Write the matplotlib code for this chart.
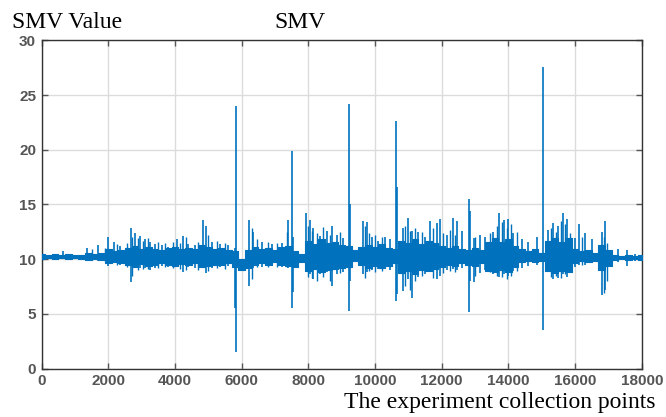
import matplotlib.pyplot as plt

# dense core of the signal: upper / lower edge every 200 points
core_x = list(range(0, 18001, 200))
core_hi = [10.45, 10.35, 10.5, 10.4, 10.45, 10.35, 10.4, 10.6, 10.45, 10.55,
           10.9, 10.7, 10.85, 11.0, 11.2, 10.9, 11.1, 10.9, 10.8, 11.0,
           11.1, 10.9, 11.0, 10.9, 11.3, 11.1, 10.9, 11.0, 10.8, 10.7,
           10.0, 10.8, 11.1, 10.9, 11.0, 10.8, 11.1, 11.2, 10.7, 10.5,
           11.7, 11.4, 11.8, 11.5, 11.6, 11.3, 11.2, 10.8, 11.1, 11.3,
           11.1, 11.4, 11.0, 10.9, 11.7, 11.5, 11.8, 11.4, 11.7, 11.5,
           11.2, 11.0, 11.2, 10.9, 10.8, 11.0, 10.8, 11.6, 11.9, 11.6,
           11.8, 11.2, 10.9, 10.7, 10.9, 10.6, 11.7, 11.9, 11.6, 11.9,
           10.9, 10.7, 10.8, 10.6, 11.3, 10.8, 10.4, 10.3, 10.4, 10.3,
           10.35]
core_lo = [10.05, 10.1, 10.0, 10.1, 10.05, 10.1, 10.0, 9.9, 10.05, 9.95,
           9.6, 9.75, 9.6, 9.5, 9.3, 9.55, 9.4, 9.5, 9.6, 9.5,
           9.4, 9.55, 9.5, 9.6, 9.3, 9.4, 9.5, 9.45, 9.6, 9.3,
           9.0, 9.2, 9.5, 9.6, 9.5, 9.7, 9.5, 9.4, 9.3, 9.7,
           8.9, 9.1, 8.8, 9.0, 9.1, 9.2, 9.3, 9.8, 9.5, 9.2,
           9.4, 9.2, 9.4, 9.6, 8.7, 8.9, 8.6, 9.0, 8.9, 9.1,
           9.3, 9.5, 9.4, 9.6, 9.5, 9.4, 9.6, 8.9, 8.8, 9.0,
           8.8, 9.3, 9.7, 9.8, 9.7, 9.8, 8.9, 8.7, 8.9, 8.8,
           9.6, 9.8, 9.7, 9.8, 9.0, 9.4, 9.9, 10.0, 9.9, 10.0,
           9.95]

# single excursions sticking out of the core
spike_x = [650, 1350, 1680, 2000, 2170, 2350, 2670, 2800, 2950, 3100,
           3250, 3400, 3600, 3800, 4050, 4250, 4400, 4600, 4830, 4930,
           5100, 5350, 5600, 5800, 5820, 6230, 6350, 6600, 6900, 7200,
           7400, 7520, 7540, 7930, 8050, 8150, 8350, 8550, 8700, 8850,
           9050, 9220, 9240, 9650, 9750, 9900, 10100, 10300, 10450, 10630,
           10650, 10850, 11000, 11100, 11300, 11500, 11650, 11850, 11950, 12150,
           12330, 12470, 12600, 12820, 12840, 12960, 13150, 13300, 13550, 13730,
           13870, 14000, 14150, 14400, 14600, 14850, 15030, 15200, 15350, 15500,
           15630, 15750, 16000, 16130, 16300, 16500, 16820, 16900, 17300, 17550,
           17800]
spike_hi = [10.7, 11.05, 11.3, 12.06, 11.6, 11.2, 12.8, 12.4, 12.1, 11.8,
            11.6, 11.4, 11.3, 11.1, 11.8, 12.1, 11.4, 11.3, 13.6, 13.0,
            11.6, 11.4, 11.3, 11.0, 24.0, 13.6, 12.5, 11.6, 11.4, 11.5,
            13.6, 19.9, 12.0, 14.2, 13.6, 12.8, 12.1, 12.6, 13.0, 12.2,
            11.9, 24.2, 15.0, 13.5, 13.4, 12.0, 11.7, 12.0, 11.8, 22.6,
            16.6, 12.8, 13.8, 12.6, 12.5, 12.0, 13.5, 13.3, 13.7, 12.2,
            13.8, 13.5, 12.6, 15.5, 14.4, 11.9, 12.2, 12.0, 12.5, 14.2,
            13.6, 13.7, 12.4, 11.8, 11.6, 12.0, 27.6, 12.7, 13.3, 13.0,
            14.2, 13.7, 11.9, 13.2, 12.4, 11.8, 12.5, 13.5, 10.9, 10.8,
            10.5]
spike_lo = [10.0, 9.8, 9.8, 9.4, 9.6, 9.5, 7.9, 9.3, 9.2, 9.2,
            9.0, 9.2, 9.4, 9.3, 9.3, 8.85, 9.3, 9.2, 9.2, 8.7,
            9.2, 9.3, 9.4, 5.5, 1.5, 7.5, 9.2, 9.3, 9.4, 9.3,
            9.2, 5.5, 7.0, 8.9, 8.6, 8.2, 8.6, 8.8, 7.5, 8.6,
            8.8, 5.3, 8.0, 8.6, 8.8, 9.0, 9.1, 9.2, 9.0, 6.2,
            6.8, 7.1, 8.2, 6.4, 8.4, 8.6, 8.8, 8.2, 8.5, 9.0,
            9.1, 9.0, 9.2, 5.2, 8.0, 7.9, 8.7, 9.0, 8.6, 8.4,
            8.6, 8.5, 8.9, 9.2, 9.4, 9.5, 3.5, 8.8, 8.2, 8.3,
            8.6, 8.4, 9.3, 9.5, 9.5, 9.6, 6.7, 7.2, 9.7, 9.4,
            9.8]

# smaller excursions that roughen the busy stretches
minor_x = [1500, 1900, 2250, 2550, 2720, 2880, 3050, 3180, 3500, 3700,
           3950, 4150, 4320, 4700, 5000, 5250, 5500, 6300, 6450, 6800,
           7050, 7350, 7990, 8100, 8250, 8450, 8650, 8950, 9700, 9820,
           10000, 10200, 10900, 11050, 11200, 11400, 11750, 12050, 12250, 12400,
           13000, 13450, 13650, 13800, 13950, 14080, 14250, 15270, 15420, 15580,
           15700, 15850, 16200, 16860, 16950]
minor_hi = [10.9, 11.0, 11.4, 11.5, 12.0, 11.9, 11.7, 11.9, 11.6, 11.5,
            11.6, 11.5, 12.0, 11.6, 12.2, 11.7, 11.5, 12.8, 11.8, 11.6,
            11.5, 12.5, 13.0, 12.6, 12.4, 12.9, 12.2, 12.5, 13.0, 12.4,
            12.2, 12.0, 13.0, 12.6, 12.8, 12.5, 12.8, 12.4, 12.7, 12.2,
            12.0, 12.4, 13.0, 13.4, 12.8, 13.2, 12.5, 12.8, 12.5, 13.5,
            13.2, 12.4, 12.0, 12.0, 11.5]
minor_lo = [9.9, 9.8, 9.5, 9.3, 8.5, 9.0, 9.1, 9.1, 9.2, 9.3,
            9.2, 9.1, 9.0, 9.0, 8.9, 9.2, 9.1, 8.2, 9.3, 9.3,
            9.3, 9.3, 8.4, 8.3, 8.0, 8.4, 8.0, 8.7, 8.3, 8.9,
            8.8, 8.9, 7.5, 7.2, 8.0, 8.5, 8.3, 8.7, 8.9, 8.8,
            8.5, 8.8, 8.5, 8.4, 8.2, 8.5, 8.9, 8.4, 8.5, 8.3,
            8.6, 8.8, 9.5, 6.9, 8.0]

x_ticks = list(range(0, 18001, 2000))
y_ticks = [0, 5, 10, 15, 20, 25, 30]

blue = '#0072BD'

fig = plt.figure(figsize=(6.66, 4.17), dpi=100)
ax = fig.add_axes([0.0626, 0.1163, 0.901, 0.787])

ax.fill_between(core_x, core_lo, core_hi, step='mid', color=blue,
                lw=0.8, zorder=3)
ax.vlines(minor_x, minor_lo, minor_hi, color=blue, lw=1.0, zorder=3)
ax.vlines(spike_x, spike_lo, spike_hi, color=blue, lw=1.2, zorder=3)

ax.set_xlim(0, 18000)
ax.set_ylim(0, 30)
ax.set_xticks(x_ticks)
ax.set_yticks(y_ticks)
ax.grid(True, color='#dcdcdc', lw=1.0, zorder=0)
ax.set_axisbelow(True)
ax.tick_params(direction='in', length=4, width=1, colors='#555555',
               top=True, right=True, labelsize=11, pad=4)
for lab in ax.get_xticklabels() + ax.get_yticklabels():
    lab.set_fontfamily('Liberation Sans')
    lab.set_fontweight('bold')
for s in ax.spines.values():
    s.set_color('#333333')
    s.set_linewidth(1.0)

serif = 'Liberation Serif'
fig.text(12 / 666, 0.933, 'SMV Value', family=serif, fontsize=17,
         ha='left', va='baseline')
fig.text(300 / 666, 0.933, 'SMV', family=serif, fontsize=17,
         ha='center', va='baseline')
fig.text(655 / 666, 0.022, 'The experiment collection points', family=serif,
         fontsize=17, ha='right', va='baseline')

fig.savefig('out.png', dpi=100)
